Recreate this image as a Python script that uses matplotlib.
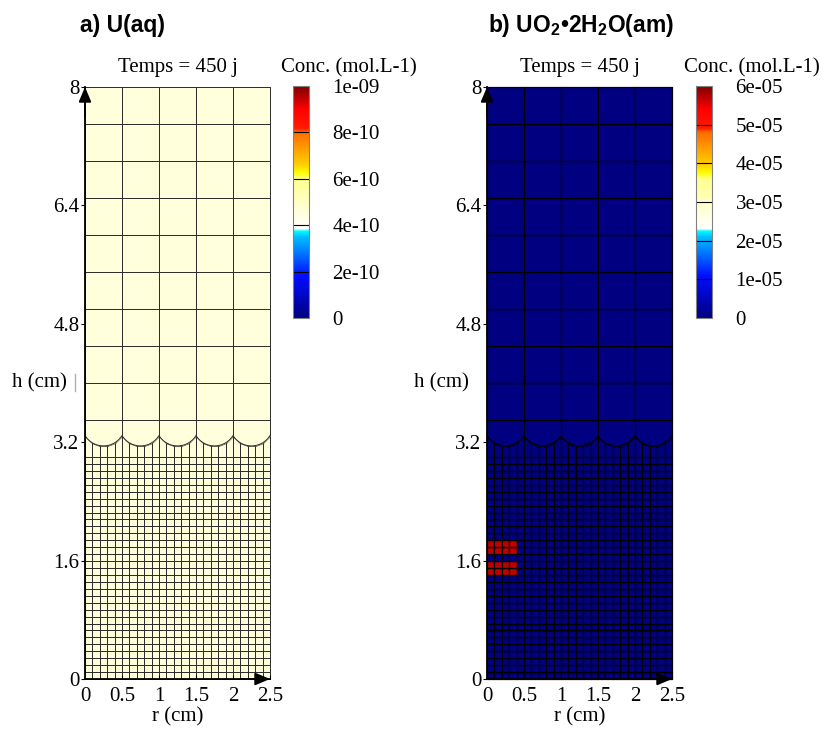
import numpy as np
import matplotlib
matplotlib.use('Agg')
import matplotlib.pyplot as plt
from matplotlib.colors import LinearSegmentedColormap, Normalize
from matplotlib.cm import ScalarMappable

plt.rcParams['font.family'] = ['Liberation Serif', 'DejaVu Serif']
plt.rcParams['mathtext.fontset'] = 'custom'
plt.rcParams['mathtext.rm'] = 'Liberation Sans'
plt.rcParams['mathtext.bf'] = 'Liberation Sans:bold'

# --- données ---
titres = ['a) U(aq)', r'b) UO$_\mathbf{2}$•2H$_\mathbf{2}$O(am)']
temps = 'Temps = 450 j'

# concentration (mol/L) : champ uniforme + mailles chaudes (panneau b)
conc_u_aq = 4.6e-10
conc_uo2_fond = 0.0
conc_uo2_chaud = 5.7e-5
lignes_chaudes = [15, 16, 18, 19]    # indices des rangées fines (depuis le bas)
colonnes_chaudes = [0, 1, 2, 3]

vmax = [1e-9, 6e-5]
cb_ticks_a = [0, 2e-10, 4e-10, 6e-10, 8e-10, 1e-9]
cb_labels_a = ['0', '2e-10', '4e-10', '6e-10', '8e-10', '1e-09']
cb_ticks_b = [0, 1e-5, 2e-5, 3e-5, 4e-5, 5e-5, 6e-5]
cb_labels_b = ['0', '1e-05', '2e-05', '3e-05', '4e-05', '5e-05', '6e-05']

y_ticks = [0, 1.6, 3.2, 4.8, 6.4, 8]
y_labels = ['0', '1.6', '3.2', '4.8', '6.4', '8']
x_ticks = [0, 0.5, 1, 1.5, 2, 2.5]
x_labels = ['0', '0.5', '1', '1.5', '2', '2.5']

# --- maillage (cm) ---
r_fin = np.linspace(0, 2.5, 26)
h_fin = np.linspace(0, 3.0, 33)
r_gros = np.linspace(0, 2.5, 6)
h_gros = np.linspace(3.5, 8.0, 10)
h_noeud, h_creux = 3.29, 3.15


def festons(x):
    s = h_noeud - h_creux
    R = (0.25 ** 2 + s ** 2) / (2 * s)
    xc = (np.floor(np.asarray(x) / 0.5) + 0.5) * 0.5
    return h_creux + R - np.sqrt(np.maximum(R ** 2 - (x - xc) ** 2, 0))


cmap = LinearSegmentedColormap.from_list('conc', [
    (0.0, (0.0, 0.0, 0.5)),
    (0.18, (0.0, 0.05, 1.0)),
    (0.35, (0.0, 0.75, 1.0)),
    (0.375, (0.0, 1.0, 1.0)),
    (0.385, (1.0, 1.0, 1.0)),
    (0.45, (1.0, 1.0, 0.88)),
    (0.6, (1.0, 1.0, 0.55)),
    (0.625, (1.0, 1.0, 0.0)),
    (0.66, (1.0, 0.82, 0.0)),
    (0.8, (1.0, 0.42, 0.0)),
    (0.82, (1.0, 0.1, 0.0)),
    (0.9, (1.0, 0.0, 0.0)),
    (1.0, (0.5, 0.0, 0.0)),
], N=512)

fig = plt.figure(figsize=(8.24, 7.33), dpi=100)
W, H = 824, 733


def px_axes(x0, y0, x1, y1):
    return fig.add_axes([x0 / W, 1 - y1 / H, (x1 - x0) / W, (y1 - y0) / H])


def panneau(ax, cax, fond, champ_fin, vm, cticks, clabels, trait, ep):
    norm = Normalize(0, vm)
    kw = dict(cmap=cmap, norm=norm, edgecolors=trait, linewidth=ep,
              shading='flat', clip_on=False, antialiased=True)
    # maillage fin
    ax.pcolormesh(r_fin, h_fin, champ_fin, **kw)
    # bande de transition jusqu'aux festons
    X = np.vstack([r_fin, r_fin])
    Y = np.vstack([np.full_like(r_fin, h_fin[-1]), festons(r_fin)])
    ax.pcolormesh(X, Y, np.full((1, 25), fond), **kw)
    # mailles grossières
    xs = np.linspace(0, 2.5, 501)
    ax.fill_between(xs, festons(xs), 3.5, color=cmap(norm(fond)), lw=0,
                    clip_on=False)
    ax.plot(xs, festons(xs), color=trait, lw=ep, clip_on=False)
    ax.vlines(r_gros, h_noeud, 3.5, color=trait, lw=ep, clip_on=False)
    ax.pcolormesh(r_gros, h_gros, np.full((9, 5), fond), **kw)

    ax.set_xlim(0, 2.5)
    ax.set_ylim(0, 8)
    for s in ['top', 'right']:
        ax.spines[s].set_visible(False)
    for s in ['left', 'bottom']:
        ax.spines[s].set_linewidth(1.3)
        ax.spines[s].set_zorder(5)
    ax.set_xticks(x_ticks, x_labels)
    ax.set_yticks(y_ticks, y_labels)
    ax.tick_params(axis='x', direction='in', length=3, pad=6, labelsize=15)
    ax.tick_params(axis='y', direction='out', length=3, pad=1, labelsize=15)
    ax.set_xlabel('r (cm)', fontsize=15, labelpad=1)
    ax.text(-0.1, 0.5, 'h (cm)', transform=ax.transAxes, ha='right',
            va='center', fontsize=15)
    ax.text(0.5, 1 + 15 / 592, temps, transform=ax.transAxes, ha='center',
            va='baseline', fontsize=15)
    fl = dict(arrowstyle='-|>,head_length=0.9,head_width=0.38', color='k',
              lw=1.3, shrinkA=0, shrinkB=0)
    ax.annotate('', xy=(0, 8), xytext=(0, 7.6), arrowprops=fl,
                annotation_clip=False, zorder=6)
    ax.annotate('', xy=(2.5, 0), xytext=(2.1, 0), arrowprops=fl,
                annotation_clip=False, zorder=6)

    cb = fig.colorbar(ScalarMappable(norm=norm, cmap=cmap), cax=cax)
    cb.set_ticks(cticks, labels=clabels)
    cb.ax.tick_params(length=0, pad=17, labelsize=15)
    cb.outline.set_edgecolor('#808080')
    cb.outline.set_linewidth(0.8)
    for t in cticks[1:-1]:
        cax.axhline(t, color='k', lw=0.8)


# panneau a
ax_a = px_axes(85, 87, 270, 679)
cax_a = px_axes(293, 86, 309, 318)
champ_a = np.full((32, 25), conc_u_aq)
panneau(ax_a, cax_a, conc_u_aq, champ_a, vmax[0], cb_ticks_a, cb_labels_a,
        '#2a2a2a', 0.7)
ax_a.plot([-0.054, -0.054], [0.487, 0.515], transform=ax_a.transAxes,
          color='#b0b0b0', lw=1, clip_on=False)

# panneau b
ax_b = px_axes(487, 87, 672, 679)
cax_b = px_axes(696, 86, 712, 318)
champ_b = np.full((32, 25), conc_uo2_fond)
for i in lignes_chaudes:
    for j in colonnes_chaudes:
        champ_b[i, j] = conc_uo2_chaud
panneau(ax_b, cax_b, conc_uo2_fond, champ_b, vmax[1], cb_ticks_b, cb_labels_b,
        'black', 0.9)

# titres
fig.text(80 / W, 1 - 32 / H, titres[0], family='Liberation Sans',
         weight='bold', fontsize=16.5, ha='left', va='baseline')
fig.text(488 / W, 1 - 32 / H, titres[1], family='Liberation Sans',
         weight='bold', fontsize=16.5, ha='left', va='baseline')
fig.text(349 / W, 1 - 72 / H, 'Conc. (mol.L-1)', fontsize=15, ha='center',
         va='baseline')
fig.text(752 / W, 1 - 72 / H, 'Conc. (mol.L-1)', fontsize=15, ha='center',
         va='baseline')

fig.savefig('out.png', dpi=100)
